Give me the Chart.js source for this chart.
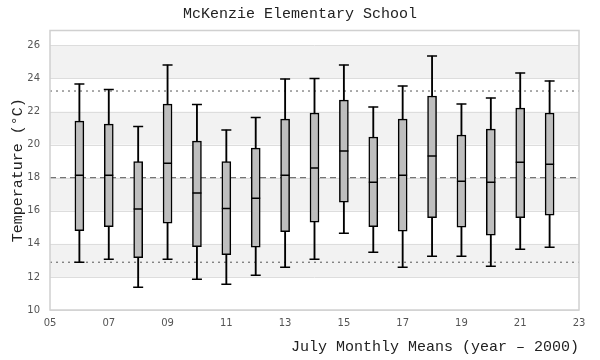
<!DOCTYPE html>
<html>
<head>
<meta charset="utf-8">
<script src="https://cdn.jsdelivr.net/npm/chart.js@4"></script>
<style>
  html, body { margin: 0; padding: 0; background: #fff; }
  #wrap { width: 600px; height: 360px; }
</style>
</head>
<body>
<div id="wrap"><canvas id="boxChart"></canvas></div>
<script>
// July monthly means, one box per year (year - 2000)
const years = [6, 7, 8, 9, 10, 11, 12, 13, 14, 15, 16, 17, 18, 19, 20, 21, 22];
const whiskerLow = [12.89, 13.07, 11.37, 13.07, 11.86, 11.56, 12.1, 12.59, 13.07, 14.64, 13.49, 12.59, 13.25, 13.25, 12.65, 13.68, 13.8];
const q1 = [14.8, 15.04, 13.17, 15.25, 13.83, 13.35, 13.8, 14.74, 15.31, 16.52, 15.04, 14.77, 15.59, 15.01, 14.52, 15.59, 15.73];
const median = [18.15, 18.15, 16.1, 18.88, 17.07, 16.13, 16.76, 18.15, 18.58, 19.61, 17.73, 18.15, 19.31, 17.79, 17.73, 18.94, 18.82];
const q3 = [21.42, 21.24, 18.98, 22.45, 20.21, 18.98, 19.79, 21.54, 21.91, 22.69, 20.46, 21.54, 22.94, 20.58, 20.94, 22.21, 21.91];
const whiskerHigh = [23.66, 23.34, 21.1, 24.81, 22.43, 20.88, 21.64, 23.97, 24.0, 24.81, 22.27, 23.54, 25.36, 22.45, 22.82, 24.33, 23.85];

const overallMean = 18.0;
const upperLimit = 23.24;
const lowerLimit = 12.89;
const xRange = [5, 23];

const mono = "'Liberation Mono', 'DejaVu Sans Mono', monospace";
const sans = "'DejaVu Sans', sans-serif";

const pts = (vals) => years.map((x, i) => ({ x, y: vals[i] }));
const hline = (v) => xRange.map((x) => ({ x, y: v }));

// shaded bands between every other y tick + light frame
const bands = {
  id: "bands",
  beforeDatasetsDraw(chart) {
    const { ctx, chartArea: a, scales: { y } } = chart;
    ctx.save();
    ctx.fillStyle = "#f2f2f2";
    const ticks = y.ticks.map((t) => t.value);
    for (let i = 1; i < ticks.length; i += 2) {
      const top = y.getPixelForValue(ticks[i + 1] !== undefined ? ticks[i + 1] : ticks[i] + 2);
      const bot = y.getPixelForValue(ticks[i]);
      ctx.fillRect(a.left, top, a.right - a.left, bot - top);
    }
    ctx.strokeStyle = "#dddddd";
    ctx.lineWidth = 1;
    ticks.forEach((v) => {
      const py = Math.round(y.getPixelForValue(v)) + 0.5;
      ctx.beginPath();
      ctx.moveTo(a.left, py);
      ctx.lineTo(a.right, py);
      ctx.stroke();
    });
    ctx.restore();
  },
  afterDraw(chart) {
    const { ctx, chartArea: a } = chart;
    ctx.save();
    ctx.strokeStyle = "#d0d0d0";
    ctx.lineWidth = 1.5;
    ctx.strokeRect(a.left, a.top, a.right - a.left, a.bottom - a.top);
    ctx.restore();
  },
};

new Chart(document.getElementById("boxChart"), {
  type: "bar",
  data: {
    datasets: [
      {
        type: "line",
        data: pts(median),
        showLine: false,
        pointStyle: "line",
        pointRadius: 4.5,
        pointBorderWidth: 1.5,
        pointBorderColor: "#000",
        order: 0,
      },
      {
        data: years.map((x, i) => ({ x, y: [q1[i], q3[i]] })),
        backgroundColor: "#bebebe",
        borderColor: "#000",
        borderWidth: 1.5,
        borderSkipped: false,
        barThickness: 9,
        grouped: false,
        order: 1,
      },
      {
        data: years.map((x, i) => ({ x, y: [whiskerLow[i], whiskerHigh[i]] })),
        backgroundColor: "#000",
        borderWidth: 0,
        barThickness: 1.2,
        grouped: false,
        order: 2,
      },
      {
        type: "line",
        data: pts(whiskerLow).concat(pts(whiskerHigh)),
        showLine: false,
        pointStyle: "line",
        pointRadius: 5,
        pointBorderWidth: 1.5,
        pointBorderColor: "#000",
        order: 2,
      },
      {
        type: "line",
        data: hline(overallMean),
        borderColor: "#555",
        borderWidth: 1,
        borderDash: [6, 4],
        pointRadius: 0,
        order: 3,
      },
      {
        type: "line",
        data: hline(upperLimit),
        borderColor: "#555",
        borderWidth: 1,
        borderDash: [2, 4],
        pointRadius: 0,
        order: 3,
      },
      {
        type: "line",
        data: hline(lowerLimit),
        borderColor: "#555",
        borderWidth: 1,
        borderDash: [2, 4],
        pointRadius: 0,
        order: 3,
      },
    ],
  },
  options: {
    responsive: true,
    maintainAspectRatio: false,
    animation: false,
    layout: { padding: 0 },
    plugins: {
      legend: { display: false },
      tooltip: { enabled: false },
      title: {
        display: true,
        text: "McKenzie Elementary School",
        color: "#222",
        font: { family: mono, size: 15, weight: "normal" },
        padding: { top: 5, bottom: 7.5 },
      },
    },
    scales: {
      x: {
        type: "linear",
        offset: false,
        min: xRange[0],
        max: xRange[1],
        grid: { display: false, drawTicks: false },
        border: { display: false },
        ticks: {
          stepSize: 2,
          padding: 7,
          color: "#555",
          font: { family: sans, size: 10 },
          callback: (v) => String(v).padStart(2, "0"),
        },
        title: {
          display: true,
          text: "July Monthly Means (year – 2000)",
          align: "end",
          color: "#222",
          font: { family: mono, size: 15 },
          padding: { top: 0, bottom: 4 },
        },
        afterFit: (s) => { s.height = 50; },
      },
      y: {
        min: 10,
        max: 26.9,
        grid: { display: false, drawTicks: false },
        border: { display: false },
        ticks: {
          stepSize: 2,
          includeBounds: false,
          padding: 10,
          color: "#555",
          font: { family: sans, size: 10 },
        },
        title: {
          display: true,
          text: "Temperature (°C)",
          color: "#222",
          font: { family: mono, size: 15 },
          padding: { top: 9, bottom: 0 },
        },
        afterFit: (s) => { s.width = 50; },
      },
      // empty right margin so the title stays centred on the page
      yRight: {
        position: "right",
        display: true,
        min: 0,
        max: 1,
        grid: { display: false, drawTicks: false },
        border: { display: false },
        ticks: { display: false },
        afterFit: (s) => { s.width = 21; },
      },
    },
  },
  plugins: [bands],
});
</script>
</body>
</html>
